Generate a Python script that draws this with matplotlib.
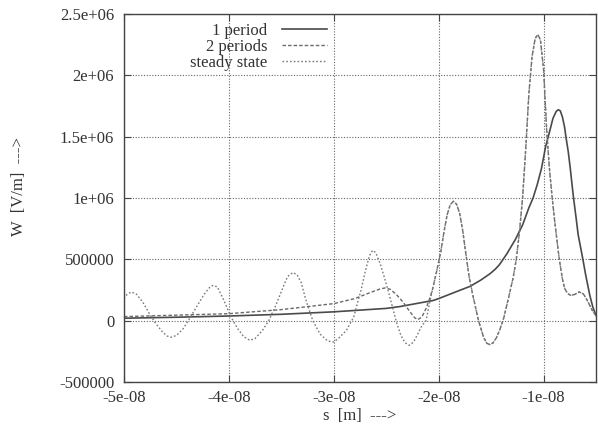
import matplotlib
matplotlib.use("Agg")
from matplotlib import pyplot as plt

plt.rcParams['font.family'] = ['Liberation Serif', 'DejaVu Serif']

# s positions in units of 1e-8 m, W in V/m
s_one = [-5.0, -4.5, -4.0, -3.5, -3.0, -2.5, -2.37, -2.05, -2.0, -1.8, -1.7, -1.6,
         -1.51, -1.46, -1.42, -1.35, -1.27, -1.2, -1.14, -1.1, -1.06, -1.02, -0.98,
         -0.94, -0.91, -0.88, -0.86, -0.84, -0.82, -0.8, -0.787, -0.765, -0.745, -0.73,
         -0.714, -0.69, -0.67, -0.645, -0.625, -0.6, -0.56, -0.53, -0.5]
w_one = [20e3, 28e3, 38e3, 52e3, 72e3, 100e3, 115e3, 165e3, 180e3, 247e3, 280e3, 330e3,
         383e3, 420e3, 457e3, 545e3, 660e3, 780e3, 920e3, 1.0e6, 1.11e6, 1.24e6, 1.42e6,
         1.55e6, 1.65e6, 1.705e6, 1.72e6, 1.71e6, 1.66e6, 1.58e6, 1.5e6, 1.38e6, 1.24e6, 1.12e6,
         1.0e6, 840e3, 700e3, 590e3, 500e3, 380e3, 210e3, 110e3, 43e3]

s_two = [-5.0, -4.5, -4.0, -3.5, -3.0, -2.8, -2.65, -2.56, -2.51, -2.46, -2.4, -2.34,
         -2.28, -2.23, -2.2, -2.16, -2.12, -2.09, -2.06, -2.02, -1.98, -1.95, -1.92,
         -1.89, -1.86, -1.83, -1.8, -1.77, -1.74, -1.71, -1.67, -1.62, -1.57, -1.54,
         -1.51, -1.48, -1.45, -1.42, -1.38, -1.33, -1.29, -1.26, -1.23, -1.2, -1.17,
         -1.14, -1.11, -1.08, -1.055, -1.03, -1.0, -0.97, -0.945, -0.92, -0.895, -0.87,
         -0.85, -0.82, -0.8, -0.77, -0.74, -0.7, -0.66, -0.62, -0.58, -0.54, -0.5]
w_two = [33e3, 45e3, 57e3, 90e3, 139e3, 180e3, 230e3, 258e3, 267e3, 255e3, 210e3, 152e3,
         80e3, 25e3, 8e3, 30e3, 100e3, 170e3, 250e3, 400e3, 560e3, 720e3, 860e3,
         945e3, 973e3, 950e3, 875e3, 730e3, 540e3, 360e3, 190e3, 0, -140e3, -185e3,
         -196e3, -180e3, -140e3, -80e3, 20e3, 200e3, 350e3, 500e3, 720e3, 1.0e6, 1.4e6,
         1.85e6, 2.15e6, 2.3e6, 2.333e6, 2.29e6, 2.05e6, 1.55e6, 1.25e6, 1.02e6, 820e3, 640e3,
         500e3, 340e3, 265e3, 220e3, 206e3, 215e3, 234e3, 218e3, 160e3, 90e3, 40e3]

s_steady = [-5.0, -4.97, -4.93, -4.88, -4.82, -4.76, -4.7, -4.64, -4.59, -4.55, -4.5,
            -4.44, -4.38, -4.31, -4.24, -4.18, -4.15, -4.11, -4.05, -3.98, -3.92, -3.86,
            -3.8, -3.75, -3.68, -3.62, -3.55, -3.48, -3.44, -3.39, -3.35, -3.31, -3.27,
            -3.2, -3.13, -3.06, -3.0, -2.95, -2.88, -2.81, -2.74, -2.7, -2.66, -2.63,
            -2.6, -2.56, -2.52, -2.48, -2.44, -2.4, -2.36, -2.32, -2.28, -2.24, -2.2,
            -2.16, -2.12, -2.09]
w_steady = [180e3, 215e3, 234e3, 215e3, 150e3, 60e3, -20e3, -85e3, -125e3, -135e3, -120e3,
            -70e3, 10e3, 110e3, 210e3, 275e3, 288e3, 275e3, 170e3, 30e3, -60e3, -130e3,
            -160e3, -145e3, -80e3, 0, 130e3, 280e3, 360e3, 392e3, 375e3, 310e3, 180e3,
            0, -110e3, -165e3, -174e3, -140e3, -80e3, 30e3, 250e3, 400e3, 530e3, 573e3,
            555e3, 470e3, 360e3, 240e3, 110e3, -20e3, -120e3, -180e3, -201e3, -175e3, -110e3,
            -40e3, 0, 130e3]
# beyond this point the steady state wake lies on the 2-period curve
s_steady += [s for s in s_two if s > -2.08]
w_steady += [w for s, w in zip(s_two, w_two) if s > -2.08]

x_ticks = [-5e-8, -4e-8, -3e-8, -2e-8, -1e-8]
x_tick_labels = ['-5e-08', '-4e-08', '-3e-08', '-2e-08', '-1e-08']
y_ticks = [-500000, 0, 500000, 1e6, 1.5e6, 2e6, 2.5e6]
y_tick_labels = ['-500000', '0', '500000', '1e+06', '1.5e+06', '2e+06', '2.5e+06']


def to_m(values):
    return [v * 1e-8 for v in values]


fig = plt.figure(figsize=(5.98, 4.32), dpi=100)
ax = fig.add_axes([124 / 598, 50 / 432, 472 / 598, 368 / 432])

ax.plot(to_m(s_one), w_one, color='#4a4a4a', lw=1.2, ls='-', label='1 period')
ax.plot(to_m(s_two), w_two, color='#6a6a6a', lw=1.0, ls=(0, (2.5, 1.5)), label='2 periods')
ax.plot(to_m(s_steady), w_steady, color='#7a7a7a', lw=1.0, ls=(0, (1.2, 1.5)), label='steady state')

ax.set_xlim(-5e-8, -5e-9)
ax.set_ylim(-500000, 2.5e6)
ax.set_xticks(x_ticks)
ax.set_xticklabels(x_tick_labels)
ax.set_yticks(y_ticks)
ax.set_yticklabels(y_tick_labels)
ax.tick_params(direction='in', length=5, width=0.8, color='#444444', top=True, right=True,
               labelsize=12, labelcolor='#333333')
ax.tick_params(axis='y', pad=7)
ax.tick_params(axis='x', pad=6)
ax.grid(True, color='#666666', ls=(0, (1, 1.5)), lw=0.8)
for spine in ax.spines.values():
    spine.set_color('#444444')
    spine.set_linewidth(1.0)

ax.set_xlabel('s  [m]  --->', fontsize=12, color='#333333', labelpad=1)
ax.set_ylabel('W  [V/m]  --->', fontsize=12, color='#333333', labelpad=24)
ax.yaxis.set_label_coords(-0.205, 0.53)

ax.legend(loc='upper right', bbox_to_anchor=(327 / 598, 1 - 23 / 432), bbox_transform=fig.transFigure,
          frameon=False, markerfirst=False, fontsize=12, handlelength=2.7, handletextpad=0.9,
          labelspacing=0.0, borderpad=0, borderaxespad=0, labelcolor='#333333')

fig.savefig('out.png', dpi=100)
